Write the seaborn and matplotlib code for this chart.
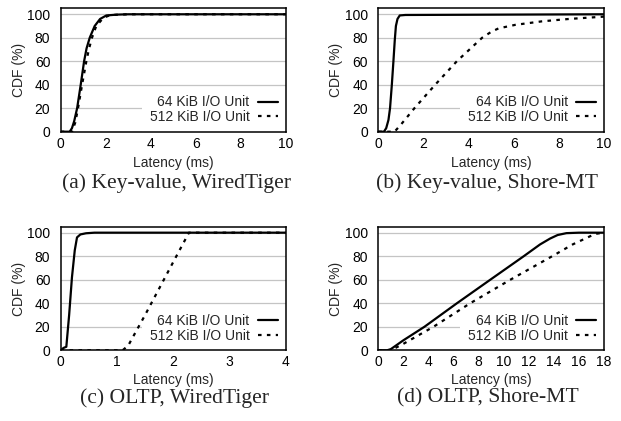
import matplotlib
matplotlib.use("Agg")
import matplotlib.pyplot as plt
import seaborn as sns
import pandas as pd

# ---------------- data ----------------
series_labels = ["64 KiB I/O Unit", "512 KiB I/O Unit"]
captions = ["(a) Key-value, WiredTiger", "(b) Key-value, Shore-MT",
            "(c) OLTP, WiredTiger", "(d) OLTP, Shore-MT"]
x_max = [10, 10, 4, 18]
x_ticks = [[0, 2, 4, 6, 8, 10], [0, 2, 4, 6, 8, 10], [0, 1, 2, 3, 4],
           [0, 2, 4, 6, 8, 10, 12, 14, 16, 18]]
y_ticks = [0, 20, 40, 60, 80, 100]

# (a) Key-value, WiredTiger
a64_x = [0, 0.4, 0.5, 0.6, 0.73, 0.89, 1.04, 1.15, 1.29, 1.51, 1.75, 2.03, 2.5, 3, 10]
a64_y = [0, 0, 3, 9, 20, 40, 60, 71, 80, 90, 96, 99, 99.7, 100, 100]
a512_x = [0, 0.5, 0.65, 0.77, 0.95, 1.14, 1.25, 1.39, 1.58, 1.9, 2.2, 3, 10]
a512_y = [0, 0, 8, 20, 40, 60, 70, 80, 90, 97, 99.3, 100, 100]

# (b) Key-value, Shore-MT
b64_x = [0, 0.25, 0.35, 0.45, 0.52, 0.6, 0.67, 0.73, 0.78, 0.85, 0.95, 1.2, 10]
b64_y = [0, 0, 3, 10, 20, 40, 60, 78, 90, 96, 99, 99.4, 100]
b512_x = [0, 0.72, 1.0, 1.6, 2.52, 3.48, 4.6, 5.0, 5.33, 6.07, 7.26, 8.44, 10]
b512_y = [0, 0, 6, 20, 40, 60, 80, 85, 88, 91, 94, 96, 98]

# (c) OLTP, WiredTiger
c64_x = [0, 0.05, 0.1, 0.15, 0.2, 0.25, 0.29, 0.35, 0.45, 0.6, 4]
c64_y = [0, 2, 3, 30, 62, 85, 96, 98.5, 99.5, 100, 100]
c512_x = [0, 1.1, 1.2, 1.5, 1.8, 2.0, 2.28, 4]
c512_y = [0, 0, 4, 30, 57, 75, 100, 100]

# (d) OLTP, Shore-MT
d64_x = [0, 0.7, 1.0, 2.0, 3.68, 6.27, 8.93, 11.6, 12.9, 13.7, 14.3, 15.0, 16.0, 18]
d64_y = [0, 0, 1, 8.5, 20, 40, 60, 80, 90, 95, 98, 99.6, 100, 100]
d512_x = [0, 1.0, 2.0, 4.4, 7.33, 10.53, 13.87, 15.5, 16.5, 17.3, 18]
d512_y = [0, 0, 5.5, 20, 40, 60, 80, 90, 95, 99, 100]

panels = [((a64_x, a64_y), (a512_x, a512_y)),
          ((b64_x, b64_y), (b512_x, b512_y)),
          ((c64_x, c64_y), (c512_x, c512_y)),
          ((d64_x, d64_y), (d512_x, d512_y))]

# ---------------- style ----------------
sns.set_theme(style="white")
plt.rcParams['font.family'] = ['Liberation Sans', 'DejaVu Sans']
plt.rcParams['axes.edgecolor'] = 'black'

W, H = 621, 421
fig = plt.figure(figsize=(W / 100, H / 100), dpi=100)

# pixel boxes: left, top, right, bottom
boxes = [(60.7, 8.4, 285.7, 131.7),
         (378.3, 8.4, 604.0, 131.7),
         (60.7, 226.8, 285.7, 350.3),
         (378.3, 226.8, 604.0, 350.3)]
cap_pos = [(177, 183.5), (487, 183.5), (175, 398), (487.5, 398)]
xlabel_pad = [4, 4, 3, 3]

for i, ((l, t, r, b), (s64, s512)) in enumerate(zip(boxes, panels)):
    ax = fig.add_axes([l / W, 1 - b / H, (r - l) / W, (b - t) / H])
    sns.lineplot(x=s64[0], y=s64[1], ax=ax, color='black', lw=1.6,
                 sort=False, estimator=None, label=series_labels[0])
    sns.lineplot(x=s512[0], y=s512[1], ax=ax, color='black', lw=1.6,
                 sort=False, estimator=None, label=series_labels[1],
                 linestyle=(0, (1.6, 2.4)))
    ax.set_xlim(0, x_max[i])
    ax.set_ylim(0, 105)
    ax.set_xticks(x_ticks[i])
    ax.set_yticks(y_ticks)
    ax.yaxis.grid(True, color='#c4c4c4', lw=0.9)
    ax.xaxis.grid(False)
    ax.set_axisbelow(True)
    for sp in ax.spines.values():
        sp.set_linewidth(1.1)
        sp.set_color('black')
    ax.tick_params(axis='both', direction='in', length=3, width=0.8,
                   labelsize=10, colors='black')
    ax.tick_params(axis='y', pad=7.5)
    ax.tick_params(axis='x', pad=3.5)
    ax.set_xlabel('Latency (ms)', fontsize=10, labelpad=xlabel_pad[i])
    ax.set_ylabel('CDF (%)', fontsize=10, labelpad=1)
    handles, labels = ax.get_legend_handles_labels()
    leg = ax.legend(handles, labels, loc='lower right', bbox_to_anchor=(1, 0),
                    borderaxespad=0, borderpad=0.55, markerfirst=False,
                    frameon=True, facecolor='white', edgecolor='none',
                    framealpha=1, fancybox=False, fontsize=10,
                    handlelength=1.45, handletextpad=0.6, labelspacing=0.05)
    leg.set_zorder(1.5)
    fig.text(cap_pos[i][0] / W, 1 - cap_pos[i][1] / H, captions[i],
             ha='center', va='center', family=['Liberation Serif'], fontsize=15.6)

fig.savefig('out.png', dpi=100)
